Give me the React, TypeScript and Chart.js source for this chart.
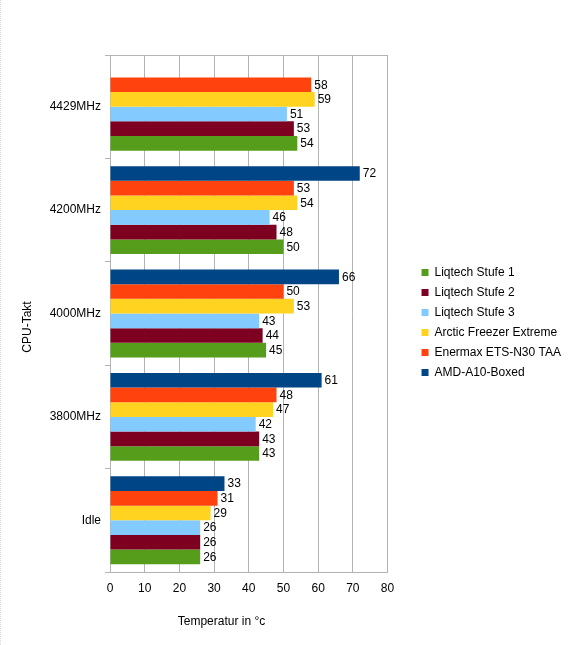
import React, { useEffect, useRef } from 'react';
import { Chart, registerables } from 'chart.js';

Chart.register(...registerables);

const categories = ['4429MHz', '4200MHz', '4000MHz', '3800MHz', 'Idle'];
const seriesNames = [
  'AMD-A10-Boxed',
  'Enermax ETS-N30 TAA',
  'Arctic Freezer Extreme',
  'Liqtech Stufe 3',
  'Liqtech Stufe 2',
  'Liqtech Stufe 1',
];
const amdBoxed = [null, 72, 66, 61, 33];
const enermax = [58, 53, 50, 48, 31];
const arctic = [59, 54, 53, 47, 29];
const liqtech3 = [51, 46, 43, 42, 26];
const liqtech2 = [53, 48, 44, 43, 26];
const liqtech1 = [54, 50, 45, 43, 26];
const seriesValues = [amdBoxed, enermax, arctic, liqtech3, liqtech2, liqtech1];
const seriesColors = ['#004586', '#ff420e', '#ffd320', '#83caff', '#7e0021', '#579d1c'];
const xMin = 0;
const xMax = 80;
const xStep = 10;
const xTitle = 'Temperatur in °c';
const yTitle = 'CPU-Takt';

const FONT = "'Liberation Sans', Arial, sans-serif";
const GRID = '#b3b3b3';

const valueLabels = {
  id: 'valueLabels',
  afterDatasetsDraw(chart: any) {
    const ctx = chart.ctx;
    ctx.save();
    ctx.font = `12px ${FONT}`;
    ctx.fillStyle = '#000';
    ctx.textAlign = 'left';
    ctx.textBaseline = 'middle';
    chart.data.datasets.forEach((ds: any, i: number) => {
      const meta = chart.getDatasetMeta(i);
      meta.data.forEach((bar: any, j: number) => {
        const v = ds.data[j];
        if (v === null || v === undefined) return;
        ctx.fillText(String(v), bar.x + 3, bar.y + 0.5);
      });
    });
    ctx.restore();
  },
};

const axisTitles = {
  id: 'axisTitles',
  afterDraw(chart: any) {
    const ctx = chart.ctx;
    ctx.save();
    ctx.font = `12px ${FONT}`;
    ctx.fillStyle = '#000';
    ctx.textAlign = 'center';
    ctx.textBaseline = 'middle';
    ctx.fillText(xTitle, 221.5, 622);
    ctx.translate(27.5, 327);
    ctx.rotate(-Math.PI / 2);
    ctx.fillText(yTitle, 0, 0);
    ctx.restore();
  },
};

export default function App() {
  const ref = useRef<HTMLCanvasElement | null>(null);

  useEffect(() => {
    if (!ref.current) return;
    const chart = new Chart(ref.current, {
      type: 'bar',
      data: {
        labels: categories,
        datasets: seriesNames.map((name, i) => ({
          label: name,
          data: seriesValues[i],
          backgroundColor: seriesColors[i],
          borderWidth: 0,
          xAxisID: 'x',
          yAxisID: 'y',
          categoryPercentage: 0.85,
          barPercentage: 1.0,
        })),
      },
      options: {
        indexAxis: 'y',
        animation: false,
        responsive: false,
        layout: { padding: 0 },
        scales: {
          x: {
            type: 'linear',
            position: 'bottom',
            min: xMin,
            max: xMax,
            ticks: { stepSize: xStep, padding: 9, color: '#000', font: { family: FONT, size: 12 } },
            grid: { color: GRID, lineWidth: 1, drawTicks: false },
            border: { color: GRID, width: 1 },
            afterFit: (s: any) => {
              s.height = 73;
            },
          },
          y: {
            type: 'category',
            position: 'left',
            offset: true,
            ticks: { padding: 4, color: '#000', font: { family: FONT, size: 12 } },
            grid: { offset: true, drawOnChartArea: false, drawTicks: true, tickLength: 5, color: GRID },
            border: { color: GRID, width: 1 },
            afterFit: (s: any) => {
              s.width = 110;
            },
          },
          xTop: {
            type: 'linear',
            position: 'top',
            display: true,
            min: xMin,
            max: xMax,
            ticks: { display: false },
            grid: { drawOnChartArea: false, drawTicks: false },
            border: { display: true, color: GRID, width: 1 },
            afterFit: (s: any) => {
              s.height = 55;
            },
          },
          yRight: {
            type: 'linear',
            position: 'right',
            display: true,
            ticks: { display: false },
            grid: { drawOnChartArea: false, drawTicks: false },
            border: { display: false },
            afterFit: (s: any) => {
              s.width = 26;
            },
          },
        },
        plugins: {
          legend: {
            position: 'right',
            reverse: true,
            maxWidth: 220,
            labels: {
              boxWidth: 7,
              boxHeight: 7,
              padding: 8,
              color: '#000',
              font: { family: FONT, size: 12 },
            },
          },
          tooltip: { enabled: false },
          title: { display: false },
        },
      } as any,
      plugins: [valueLabels, axisTitles],
    });
    return () => chart.destroy();
  }, []);

  return (
    <div
      style={{
        position: 'fixed',
        left: 0,
        top: 0,
        width: 577,
        height: 645,
        overflow: 'hidden',
        background: '#fff',
      }}
    >
      <div
        style={{
          position: 'absolute',
          left: 0,
          top: 0,
          width: 0,
          height: 645,
          borderLeft: '1px dotted #d8d8d8',
        }}
      />
      <canvas ref={ref} width={571} height={645} style={{ position: 'absolute', left: 0, top: 0 }} />
    </div>
  );
}
